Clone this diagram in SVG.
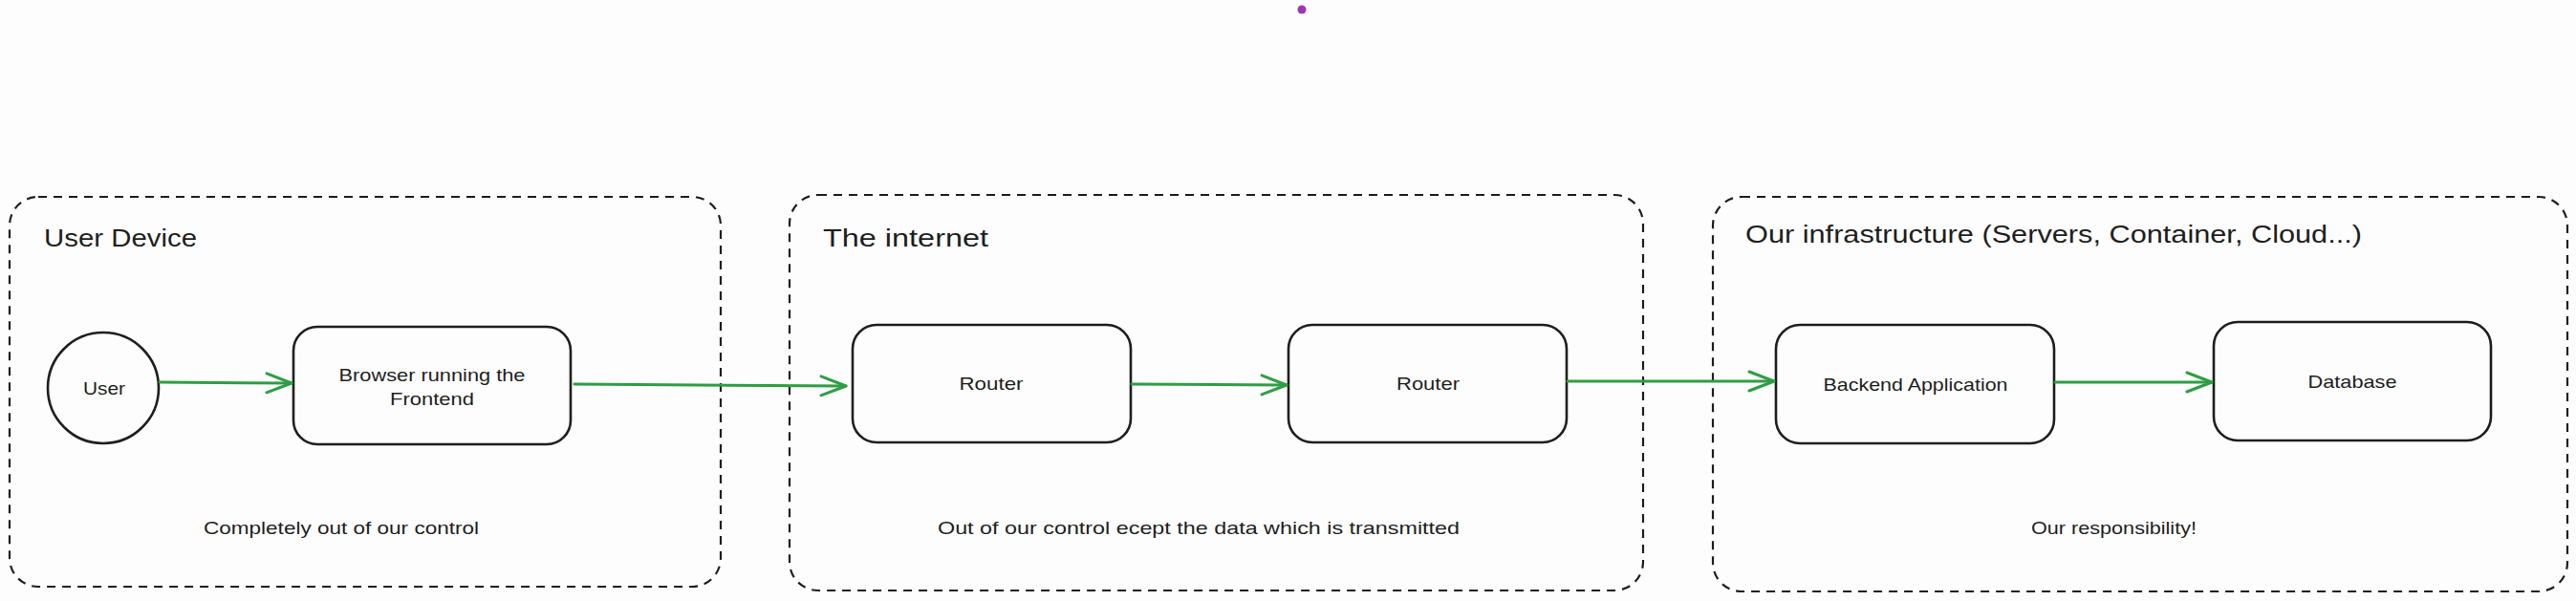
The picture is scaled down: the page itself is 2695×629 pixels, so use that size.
<svg xmlns="http://www.w3.org/2000/svg" width="2695" height="629" viewBox="0 0 2695 629">
<style>
.bg{fill:#fdfdfd}
.group{fill:none;stroke:#1e1e1e;stroke-width:2.2;stroke-dasharray:9 7}
.node{fill:none;stroke:#1e1e1e;stroke-width:2.6}
.title{font-family:"Liberation Sans",Arial,sans-serif;font-size:25px;fill:#1e1e1e}
.label{font-family:"Liberation Sans",Arial,sans-serif;font-size:19px;fill:#1e1e1e;text-anchor:middle;dominant-baseline:central}
.note{font-family:"Liberation Sans",Arial,sans-serif;font-size:19px;fill:#1e1e1e;dominant-baseline:central}
.edge{fill:none;stroke:#2f9e44;stroke-width:3;stroke-linecap:round}
</style>
<defs>
<marker id="arrow" markerUnits="userSpaceOnUse" markerWidth="40" markerHeight="30" viewBox="-30 -15 40 30" refX="0" refY="0" orient="auto">
<path d="M -26 -10 L 0 0 L -26 10" fill="none" stroke="#2f9e44" stroke-width="3" stroke-linecap="round" stroke-linejoin="round"/>
</marker>
</defs>
<rect class="bg" x="0" y="0" width="2695" height="629"/>
<circle cx="1362" cy="10" r="4.5" fill="#9c36b5"/>

<g id="group-user-device">
<rect class="group" x="10" y="206" width="744" height="408" rx="30"/>
<text class="title" x="46" y="258" textLength="160" lengthAdjust="spacingAndGlyphs">User Device</text>
<text class="note" x="213" y="552" textLength="288" lengthAdjust="spacingAndGlyphs">Completely out of our control</text>
</g>
<g id="group-internet">
<rect class="group" x="826" y="204" width="893" height="414" rx="30"/>
<text class="title" x="861" y="258" textLength="173" lengthAdjust="spacingAndGlyphs">The internet</text>
<text class="note" x="981" y="552" textLength="546" lengthAdjust="spacingAndGlyphs">Out of our control ecept the data which is transmitted</text>
</g>
<g id="group-infrastructure">
<rect class="group" x="1792" y="206" width="894" height="413" rx="30"/>
<text class="title" x="1826" y="254" textLength="645" lengthAdjust="spacingAndGlyphs">Our infrastructure (Servers, Container, Cloud...)</text>
<text class="note" x="2125" y="552" textLength="173" lengthAdjust="spacingAndGlyphs">Our responsibility!</text>
</g>

<g id="node-user">
<circle class="node" cx="108" cy="406" r="58"/>
<text class="label" x="109" y="406" textLength="44" lengthAdjust="spacingAndGlyphs">User</text>
</g>
<g id="node-browser">
<rect class="node" x="307" y="342" width="290" height="123" rx="25"/>
<text class="label" x="452" y="392" textLength="195" lengthAdjust="spacingAndGlyphs">Browser running the</text>
<text class="label" x="452" y="417" textLength="88" lengthAdjust="spacingAndGlyphs">Frontend</text>
</g>
<g id="node-router1">
<rect class="node" x="892" y="340" width="291" height="123" rx="25"/>
<text class="label" x="1037" y="401" textLength="67" lengthAdjust="spacingAndGlyphs">Router</text>
</g>
<g id="node-router2">
<rect class="node" x="1348" y="340" width="291" height="123" rx="25"/>
<text class="label" x="1494" y="401" textLength="66" lengthAdjust="spacingAndGlyphs">Router</text>
</g>
<g id="node-backend">
<rect class="node" x="1858" y="340" width="291" height="124" rx="25"/>
<text class="label" x="2004" y="402" textLength="193" lengthAdjust="spacingAndGlyphs">Backend Application</text>
</g>
<g id="node-database">
<rect class="node" x="2316" y="337" width="290" height="124" rx="25"/>
<text class="label" x="2461" y="399" textLength="93" lengthAdjust="spacingAndGlyphs">Database</text>
</g>

<g id="connectors">
<path class="edge" d="M 167 400 L 305 401" marker-end="url(#arrow)"/>
<path class="edge" d="M 601 402 L 885 404" marker-end="url(#arrow)"/>
<path class="edge" d="M 1184 402 L 1346 403" marker-end="url(#arrow)"/>
<path class="edge" d="M 1640 399 L 1856 399" marker-end="url(#arrow)"/>
<path class="edge" d="M 2150 400 L 2314 400" marker-end="url(#arrow)"/>
</g>
</svg>
